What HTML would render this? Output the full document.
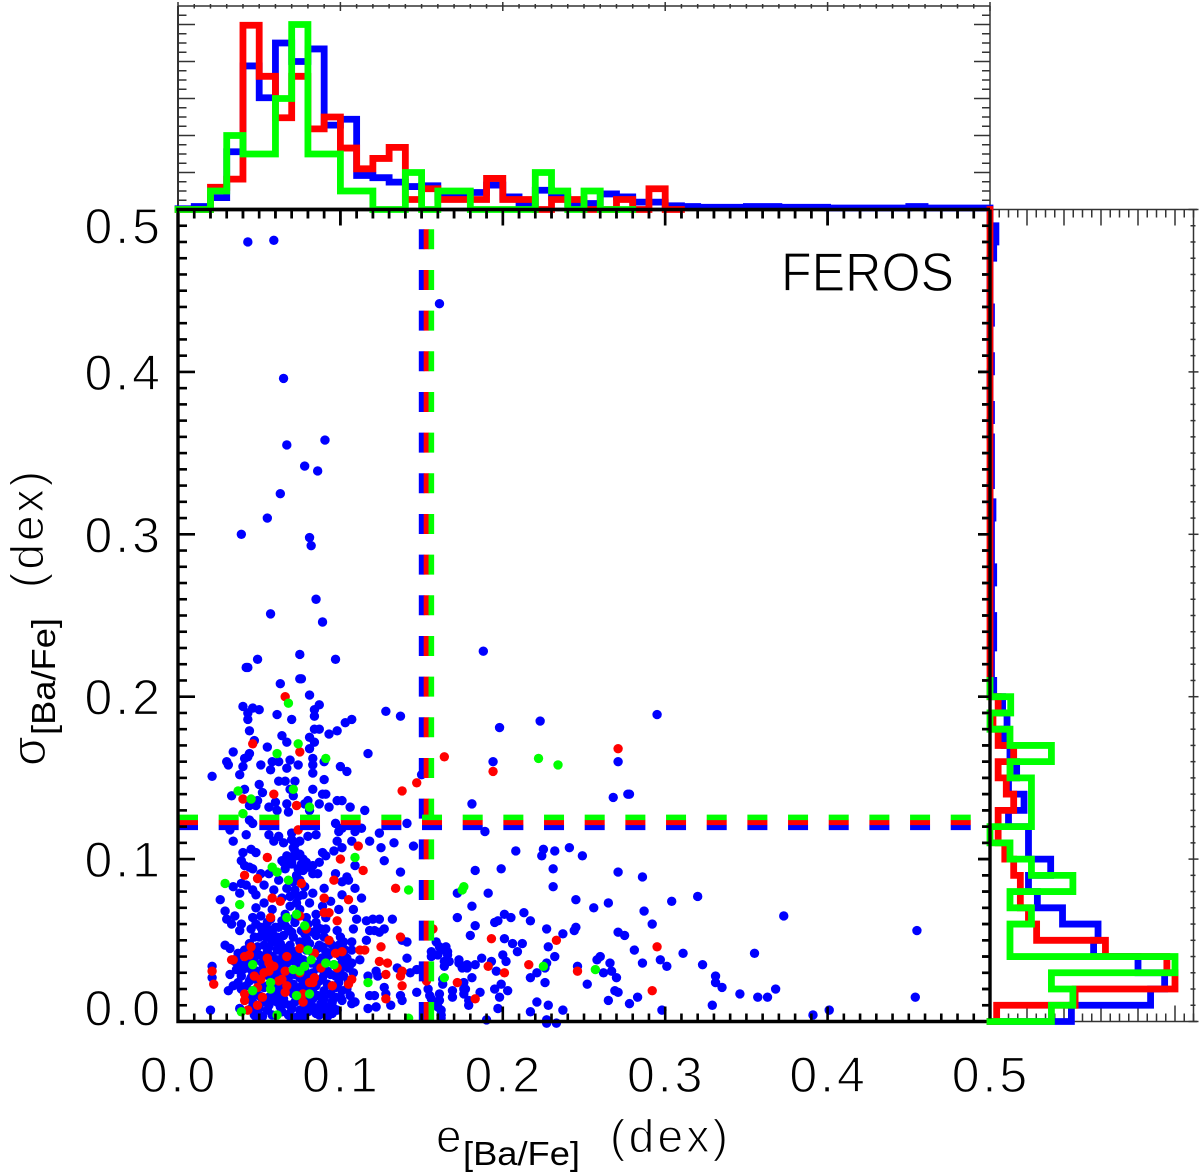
<!DOCTYPE html>
<html>
<head>
<meta charset="utf-8">
<title>FEROS scatter</title>
<style>
html,body{margin:0;padding:0;background:#fff;}
svg{display:block;}
text{font-family:"Liberation Sans",sans-serif;fill:#000;}
.thin{stroke:#fff;stroke-width:1.2px;}
.tick{letter-spacing:3px;}
</style>
</head>
<body>
<svg id="chart" xmlns="http://www.w3.org/2000/svg" width="1200" height="1176" viewBox="0 0 1200 1176">
<rect x="0" y="0" width="1200" height="1176" fill="#fff"/>
<g id="scatter-layer"></g>
<g id="dash-layer"></g>
<g id="frame-layer"></g>
<g id="hist-layer"></g>
<g id="top-layer"></g>
<g id="label-layer"></g>
<text class="thin" x="781" y="291" font-size="55" textLength="173" lengthAdjust="spacingAndGlyphs">FEROS</text>
<text class="thin" x="436" y="1152" font-size="46">e</text>
<text x="463" y="1165" font-size="33" textLength="117" lengthAdjust="spacingAndGlyphs">[Ba/Fe]</text>
<text class="thin" x="610" y="1152" font-size="46" textLength="118">(dex)</text>
<text class="thin" transform="translate(45,766) rotate(-90)" font-size="48">σ</text>
<text transform="translate(55,735) rotate(-90)" font-size="33" textLength="117" lengthAdjust="spacingAndGlyphs">[Ba/Fe]</text>
<text class="thin" transform="translate(43,588) rotate(-90)" font-size="46" textLength="117">(dex)</text>
</svg>
<script>
// ---------- data ----------
const xTickLabels = ["0.0","0.1","0.2","0.3","0.4","0.5"];
const yTickLabels = ["0.0","0.1","0.2","0.3","0.4","0.5"];
const thresholdE = {blue:0.150, red:0.153, green:0.156};
const thresholdS = {blue:0.1195, red:0.1226, green:0.1257};

// top histogram: percent per 0.01 bin of e
const histTopBlue = [0.1,0.4,1.6,7.8,19.4,15.1,22.5,20,21.7,11.4,12.2,4.6,4.3,3.7,3.1,3.2,1.7,1.7,2.3,3.3,1.7,0.7,2.6,1.7,0.8,0.8,2.1,1.7,1,1,0.5,0.4,0.3,0.3,0.3,0.4,0.4,0.3,0.3,0.3,0.2,0.2,0.2,0.2,0.2,0.4,0.2,0.2,0.2,0.2];
const histTopRed = [0,0,3,4.1,24.9,18,12.4,18,10.9,12.5,8.3,5.5,6.9,8.4,1.35,2.8,1.35,1.35,1.35,4.2,1.35,1.35,0,1.35,1.35,0,0,1.35,0,2.8,0];
const histTopGreen = [0,0,2.5,10,7.5,7.5,15,25,7.5,7.5,2.5,2.5,0,0,5,0,2.5,2.5,0,0,0,0,5,2.5,0,2.5,0,0];

// right histogram: percent per 0.01 bin of sigma
const histRightBlue = [11,21.7,23.6,20,14,14.6,9.8,6.4,5.2,8.2,5.2,5.2,2.5,4.6,2.5,3.6,2.7,1.9,2.3,1.7,0.5,0.2,0.2,0.5,0.5,0.2,0.2,0.5,0.2,0.2,0.2,0.4,0,0.2,0.2,0.2,0,0.2,0,0,0.2,0,0,0.2,0,0,0,0.5,0.8,0];
const histRightRed = [0.9,11.5,25,23.9,15.6,6.3,5.2,4.1,4.1,3.2,2,1.1,1.1,3.2,2.2,1.1,3.2,1.1,0.4,1.1,0,0,0,0,0,0,0,0,0,0,0,0,0,0,0,0,0,0,0,0,0,0,0,0,0,0,0,0,0,0];
const histRightGreen = [8.3,11.2,8.3,25,2.7,2.7,5.6,2.7,11.2,5.6,2.7,0,5.6,5.6,5.6,2.7,8.3,2.7,0,2.8,0];

// scatter points: [e, sigma]
const blueSparse = [[.043,.480],[.059,.481],[.161,.442],[.065,.396],[.067,.355],[.0905,.358],[.078,.342],[.086,.339],[.063,.325],[.055,.310],[.039,.300],[.081,.298],[.082,.293],[.085,.260],[.089,.246],[.057,.251],[.075,.226],[.049,.223],[.097,.223],[.042,.218],[.188,.228],[.076,.211],[.063,.208],
[.295,.189],[.223,.185],[.198,.181],[.194,.160],[.271,.160],[.181,.134],[.268,.138],[.278,.140],[.277,.140],[.189,.117],[.208,.105],[.225,.106],[.224,.102],[.232,.105],[.241,.107],[.249,.102],[.183,.093],[.199,.094],[.231,.094],[.271,.092],[.286,.089],[.172,.079],[.191,.079],[.231,.083],[.245,.075],[.256,.070],[.265,.073],[.304,.074],[.320,.077],[.181,.071],[.287,.068],[.172,.064],[.201,.066],[.197,.062],[.195,.061],[.205,.064],[.213,.067],[.217,.062],[.183,.059],[.373,.065],[.292,.060],[.227,.057],[.245,.058],[.244,.056],[.237,.054],[.271,.055],[.275,.053],[.180,.053],[.455,.056],[.201,.051],[.206,.048],[.212,.048],[.228,.046],[.281,.044],[.209,.043],[.311,.042],[.355,.042],[.200,.041],[.202,.037],[.232,.040],[.187,.039],[.193,.037],[.297,.038],[.260,.040],[.258,.038],[.266,.036],[.286,.036],[.301,.034],[.323,.035],[.227,.036],[.226,.033],[.246,.034],[.221,.030],[.217,.027],[.196,.031],[.183,.035],[.178,.033],[.175,.033],[.173,.036],[.181,.027],[.262,.030],[.267,.031],[.270,.027],[.331,.028],[.331,.024],[.335,.021],[.226,.024],[.252,.023],[.199,.023],[.195,.020],[.203,.019],[.176,.020],[.176,.017],[.186,.018],[.169,.015],[.198,.015],[.269,.019],[.271,.018],[.283,.015],[.278,.011],[.265,.013],[.346,.017],[.357,.015],[.363,.015],[.368,.020],[.454,.015],[.329,.010],[.179,.010],[.197,.008],[.228,.010],[.221,.012],[.237,.007],[.217,.006],[.298,.007],[.391,.004],[.401,.007],[.190,.001],[.227,.001],[.227,-.001],[.233,-.001],
[.159,.049],[.162,.044],[.166,.043],[.156,.040],[.160,.041],[.167,.037],[.164,.034],[.163,.023],[.161,.013],[.160,.009],[.162,.004],[.162,.002],[.156,.014]];

const blueUpper = [[.043,.218],[.075,.211],[.081,.201],[.040,.194],[.043,.190],[.046,.193],[.050,.192],[.043,.186],[.061,.189],[.070,.186],[.087,.195],[.084,.192],[.084,.188],[.107,.186],[.103,.184],[.128,.191],[.137,.188],[.044,.179],[.084,.180],[.087,.180],[.098,.179],[.093,.177],[.064,.176],[.067,.172],[.081,.175],[.084,.172],[.047,.173],[.055,.169],[.034,.166],[.044,.165],[.043,.163],[.041,.162],[.081,.168],[.117,.165],[.030,.160],[.031,.158],[.040,.157],[.051,.158],[.058,.160],[.062,.160],[.057,.155],[.069,.161],[.067,.156],[.074,.158],[.083,.162],[.083,.158],[.083,.153],[.090,.160],[.100,.157],[.104,.154],[.021,.151],[.038,.152],[.090,.149],[.062,.148],[.066,.148],[.072,.148],[.050,.146],[.150,.152],[.041,.143],[.052,.141],[.083,.143],[.069,.143],[.071,.139],[.033,.139],[.089,.140],[.091,.140],[.049,.136],[.044,.133],[.048,.133],[.080,.136],[.078,.134],[.060,.135],[.056,.132],[.061,.130],[.067,.134],[.068,.129],[.087,.134],[.093,.132],[.098,.136],[.101,.136],[.106,.132],[.115,.130],[.081,.130],[.044,.124],[.046,.122],[.097,.122],[.141,.122],[.032,.118],[.042,.115],[.056,.115],[.034,.111],[.062,.114],[.059,.111],[.065,.110],[.070,.116],[.070,.112],[.072,.109],[.075,.111],[.080,.114],[.085,.115],[.099,.117],[.101,.119],[.098,.111],[.109,.117],[.113,.119],[.124,.116],[.107,.111],[.118,.111],[.133,.110],[.145,.108],[.125,.107],[.101,.107],[.096,.105],[.040,.104],[.045,.106],[.048,.104],[.072,.105],[.075,.103],[.089,.104],[.091,.102],[.087,.098],[.127,.099],[.067,.102],[.064,.099],[.039,.099],[.041,.096],[.044,.095],[.070,.097],[.076,.097],[.080,.095],[.109,.096],[.137,.092],[.071,.107],[.073,.102],[.069,.101],[.077,.100],[.074,.094],[.066,.094],[.083,.096]];

const blueMiddle = [[.046,.094],[.051,.091],[.034,.083],[.039,.085],[.042,.084],[.038,.079],[.046,.081],[.053,.084],[.059,.081],[.048,.078],[.026,.075],[.053,.073],[.048,.070],[.046,.064],[.051,.065],[.029,.068],[.035,.065],[.030,.063],[.033,.060],[.039,.060],[.038,.056],[.045,.057],[.047,.052],[.055,.057],[.054,.052],[.062,.058],[.061,.052],[.029,.047],[.032,.045],[.037,.042],[.035,.037],[.032,.029],[.034,.022],[.031,.019],[.021,.034],[.021,.027],[.020,.007],[.077,.093],[.073,.090],[.083,.091],[.076,.096],[.070,.098],[.065,.098],[.079,.098],[.086,.091],[.073,.073],[.077,.078],[.081,.073],[.078,.083],[.085,.066],[.089,.071],[.091,.064],[.101,.078],[.109,.082],[.113,.076],[.097,.091],[.104,.089],[.101,.086],[.105,.087],[.099,.069],[.108,.069],[.110,.063],[.108,.057],[.116,.062],[.120,.063],[.124,.063],[.132,.063],[.118,.056],[.121,.056],[.127,.057],[.124,.055],[.138,.050],[.141,.049],[.116,.050],[.107,.049],[.100,.052],[.091,.057],[.085,.061],[.098,.056],[.102,.049],[.107,.044],[.112,.038],[.107,.036],[.108,.030],[.156,.043],[.161,.046],[.165,.046],[.166,.041],[.164,.037],[.173,.038],[.178,.035],[.122,.031],[.117,.028],[.123,.028],[.135,.033],[.141,.039],[.143,.030],[.147,.032],[.151,.034],[.147,.018],[.154,.020],[.155,.016],[.161,.017],[.169,.019],[.176,.024],[.177,.020],[.163,.026],[.179,.013],[.159,.011],[.162,.007],[.162,.004],[.137,.016],[.138,.013],[.131,.010],[.127,.021],[.128,.017],[.118,.016],[.121,.016],[.122,.009],[.117,.008],[.109,.012],[.107,.011],[.096,.008],[.091,.005],[.085,.005],[.077,.002],[.069,.005],[.070,.002],[.048,.003],[.045,.008],[.038,.008],[.046,.012],[.056,.091],[.062,.087],[.067,.082],[.071,.086],[.064,.076],[.069,.071],[.058,.069],[.066,.066],[.075,.069],[.083,.079],[.090,.082],[.094,.074],[.072,.081],[.075,.087],[.069,.077],[.074,.077],[.057,.063],[.064,.062],[.072,.064],[.079,.064]];

const blueDense = [[.048,.060],[.055,.061],[.066,.059],[.072,.061],[.080,.060],[.052,.056],[.058,.055],[.068,.057],[.076,.056],[.083,.055],[.088,.057],[.050,.052],[.057,.051],[.065,.053],[.071,.052],[.079,.051],[.085,.053],[.090,.052],[.044,.048],[.053,.047],[.059,.049],[.063,.048],[.069,.047],[.075,.049],[.081,.048],[.087,.047],[.094,.048],[.099,.047],[.041,.044],[.047,.045],[.055,.043],[.061,.044],[.066,.045],[.072,.043],[.079,.044],[.086,.045],[.091,.043],[.103,.044],[.037,.040],[.044,.039],[.050,.041],[.058,.040],[.064,.039],[.070,.041],[.074,.040],[.088,.039],[.093,.041],[.100,.040],[.104,.039],[.037,.036],[.041,.035],[.047,.037],[.052,.036],[.062,.035],[.068,.037],[.074,.036],[.085,.035],[.091,.037],[.101,.036],[.106,.035],[.036,.032],[.043,.033],[.049,.031],[.058,.032],[.064,.033],[.070,.031],[.078,.032],[.086,.033],[.092,.031],[.100,.032],[.105,.033],[.039,.028],[.045,.027],[.054,.029],[.060,.028],[.068,.027],[.072,.029],[.080,.028],[.089,.027],[.094,.029],[.102,.028],[.037,.024],[.044,.025],[.050,.023],[.059,.024],[.065,.025],[.071,.023],[.077,.024],[.087,.025],[.092,.023],[.099,.024],[.105,.025],[.039,.020],[.046,.019],[.053,.021],[.060,.020],[.069,.019],[.075,.021],[.083,.020],[.090,.019],[.097,.021],[.104,.020],[.043,.016],[.047,.017],[.056,.015],[.063,.016],[.071,.017],[.079,.015],[.086,.016],[.094,.017],[.100,.015],[.106,.016],[.052,.012],[.059,.013],[.066,.011],[.072,.012],[.081,.013],[.088,.011],[.095,.012],[.101,.013],[.050,.008],[.055,.007],[.063,.009],[.070,.008],[.075,.007],[.083,.009],[.089,.008],[.098,.007],[.047,.004],[.052,.003],[.068,.004],[.074,.003],[.078,.005],[.087,.004],[.092,.003],
[.051,.058],[.060,.058],[.070,.055],[.078,.054],[.086,.058],[.049,.046],[.056,.046],[.064,.043],[.069,.043],[.077,.046],[.083,.042],[.089,.046],[.096,.045],[.046,.042],[.053,.039],[.061,.038],[.067,.036],[.072,.037],[.077,.038],[.082,.036],[.089,.035],[.096,.035],[.040,.032],[.046,.030],[.052,.032],[.056,.028],[.062,.030],[.067,.029],[.075,.027],[.083,.030],[.090,.030],[.097,.028],[.042,.022],[.048,.026],[.055,.022],[.062,.021],[.067,.022],[.073,.019],[.080,.021],[.085,.022],[.095,.022],[.101,.019],[.050,.016],[.058,.017],[.065,.014],[.075,.014],[.083,.014],[.090,.014],[.097,.015],[.056,.010],[.061,.012],[.069,.010],[.078,.010],[.085,.008],[.092,.009],[.058,.004],[.064,.006],[.080,.006],[.095,.005]];

const redPoints = [[.164,.163],[.194,.154],[.271,.168],[.193,.051],[.233,.050],[.295,.046],[.216,.035],[.191,.034],[.201,.030],[.246,.031],[.172,.024],[.183,.014],[.292,.019],[.157,.057],
[.066,.200],[.046,.171],[.075,.166],[.147,.147],[.138,.142],[.040,.137],[.059,.140],[.073,.133],[.074,.118],[.111,.108],[.055,.101],[.100,.100],[.114,.093],
[.041,.090],[.049,.088],[.076,.085],[.096,.087],[.134,.082],[.058,.076],[.063,.074],[.090,.076],[.105,.075],[.090,.067],[.093,.067],[.057,.064],[.075,.065],[.098,.062],[.079,.057],[.137,.052],[.093,.050],[.045,.046],[.075,.045],[.125,.046],[.084,.042],[.097,.042],[.101,.043],[.112,.044],[.115,.044],[.067,.040],[.034,.038],[.033,.038],[.041,.040],[.044,.041],[.055,.039],[.056,.036],[.124,.037],[.129,.036],[.059,.034],[.056,.031],[.053,.030],[.066,.031],[.047,.028],[.051,.026],[.064,.026],[.062,.025],[.075,.030],[.088,.033],[.098,.033],[.128,.029],[.138,.031],[.137,.028],[.021,.031],[.022,.023],[.084,.027],[.083,.024],[.081,.024],[.107,.026],[.105,.023],[.095,.022],[.138,.022],[.153,.025],[.067,.022],[.066,.018],[.049,.021],[.041,.017],[.041,.013],[.052,.015],[.049,.010],[.128,.014],[.077,.017],[.077,.012],[.043,.007]];

const greenPoints = [[.222,.162],[.234,.158],[.175,.081],[.225,.034],[.257,.032],[.164,.027],
[.068,.196],[.074,.171],[.061,.165],[.091,.162],[.037,.142],[.071,.143],[.045,.137],[.081,.132],[.040,.128],[.109,.101],[.058,.095],
[.061,.092],[.068,.087],[.029,.085],[.038,.072],[.142,.081],[.176,.083],[.067,.064],[.073,.066],[.078,.059],[.080,.044],[.082,.038],[.046,.035],[.091,.036],[.096,.035],[.078,.034],[.075,.031],[.071,.032],[.057,.024],[.057,.020],[.046,.019],[.073,.016],[.081,.017],[.039,.006],[.061,.004],[.117,.024],[.142,.002]];

// ---------- axis functions ----------
const X0 = 178, X1 = 990, YB = 1021.5, YT = 209.5;
function xScale(e){ return X0 + (X1 - X0) * e / 0.5; }
function yScale(s){ return YB - (YB - YT) * s / 0.5; }
function histH(v){ return v * 7.4; }

const SVGNS = "http://www.w3.org/2000/svg";
function mk(tag, parent, attrs){
  const el = document.createElementNS(SVGNS, tag);
  for (const k in attrs) el.setAttribute(k, attrs[k]);
  parent.appendChild(el);
  return el;
}
function seg(parent, x1, y1, x2, y2, color, w){
  return mk("line", parent, {x1:x1, y1:y1, x2:x2, y2:y2, stroke:color, "stroke-width":w});
}

// ---------- scatter ----------
const scatter = document.getElementById("scatter-layer");
function drawPoints(points, color, r, name){
  points.forEach(function(p){
    const c = mk("circle", scatter, {cx:xScale(p[0]), cy:yScale(p[1]), r:r, fill:color});
    
    
  });
}
drawPoints(blueSparse, "#0000ff", 4.7, "blue-point");
drawPoints(blueUpper, "#0000ff", 4.7, "blue-point");
drawPoints(blueMiddle, "#0000ff", 4.7, "blue-point");
drawPoints(blueDense, "#0000ff", 4.7, "blue-point");
drawPoints(redPoints, "#ff0000", 4.7, "red-point");
drawPoints(greenPoints, "#00ff00", 4.7, "green-point");

// ---------- thresholds ----------
const dash = document.getElementById("dash-layer");
[["blue","#0000ff"],["red","#ff0000"],["green","#00ff00"]].forEach(function(item){
  const v = mk("line", dash, {x1:xScale(thresholdE[item[0]]), x2:xScale(thresholdE[item[0]]), y1:YB+0.5, y2:YT, stroke:item[1], "stroke-width":5.6, "stroke-dasharray":"20 20.67"});
  
  
  const h = mk("line", dash, {x1:X0, x2:X1, y1:yScale(thresholdS[item[0]]), y2:yScale(thresholdS[item[0]]), stroke:item[1], "stroke-width":5.4, "stroke-dasharray":"20 20.67"});
  
  
});

// ---------- main frame & ticks ----------
const frame = document.getElementById("frame-layer");
const DK = "#000", TH = "#333";
for (let i = 0; i <= 50; i++){
  const e = i * 0.01, major = i % 10 === 0;
  const px = xScale(e);
  seg(frame, px, YB, px, YB - (major ? 15 : 8), DK, 2.6);
  seg(frame, px, YT, px, YT + (major ? 16 : 9), DK, 2.6);
  const py = yScale(e);
  seg(frame, X0, py, X0 + (major ? 17 : 9), py, DK, 2.6);
  seg(frame, X1, py, X1 - (major ? 12 : 8), py, DK, 2.6);
}
const box = mk("path", frame, {d:"M"+X0+" "+YT+"V"+YB+"H"+X1+"M"+X0+" "+YT+"H"+X1, fill:"none", stroke:DK, "stroke-width":3.4});



// top panel frame
const topY = 6;
seg(frame, X0, topY, X1, topY, TH, 1.5);
seg(frame, X0, topY, X0, YT, TH, 2);
seg(frame, X1, topY, X1, YT, TH, 1.5);
for (let i = 0; i <= 50; i++){
  const px = xScale(i * 0.01), major = i % 10 === 0;
  seg(frame, px, major ? 2 : 4, px, major ? 11 : 8.5, TH, 1.5);
}
for (let i = 1; i <= 21; i++){
  const py = YT - i * 9.25, major = i % 4 === 0;
  seg(frame, X0, py, X0 + (major ? 17 : 8.5), py, TH, 1.5);
  seg(frame, X1, py, X1 - (major ? 16 : 8), py, TH, 1.5);
}

// right panel frame
const rightX = 1193.5;
seg(frame, X1, YT, 1197, YT, TH, 1.5);
seg(frame, X1, YB, 1197, YB, TH, 1.5);
seg(frame, rightX, YT, rightX, YB, TH, 1.5);
for (let i = 1; i <= 22; i++){
  const px = X1 + i * 9.25, major = i % 4 === 0;
  seg(frame, px, YT, px, YT + (major ? 16 : 8), TH, 1.5);
  seg(frame, px, YB, px, YB - (major ? 16 : 8), TH, 1.5);
}
for (let i = 0; i <= 50; i++){
  const py = yScale(i * 0.01), major = i % 10 === 0;
  seg(frame, rightX - (major ? 5 : 3), py, rightX + (major ? 5 : 2), py, TH, 1.5);
}

// ---------- histograms ----------
const hist = document.getElementById("hist-layer");
function topHistPath(values){
  let d = "";
  values.forEach(function(v, k){
    const y = YT - histH(v);
    d += (k === 0 ? "M" : "L") + xScale(k * 0.01) + " " + y + "L" + xScale((k + 1) * 0.01) + " " + y;
  });
  return d;
}
function rightHistPath(values){
  let d = "M" + X1 + " " + YB;
  values.forEach(function(v, k){
    const x = X1 + histH(v);
    d += "L" + x + " " + yScale(k * 0.01) + "L" + x + " " + yScale((k + 1) * 0.01);
  });
  return d;
}
function drawHist(d, color, name){
  const p = mk("path", hist, {d:d, fill:"none", stroke:color, "stroke-width":6.8, "stroke-linejoin":"miter", "stroke-linecap":"square"});
  
  
}
drawHist(topHistPath(histTopBlue), "#0000ff", "top-histogram-blue");
drawHist(topHistPath(histTopRed), "#ff0000", "top-histogram-red");
drawHist(topHistPath(histTopGreen), "#00ff00", "top-histogram-green");
drawHist(rightHistPath(histRightBlue), "#0000ff", "right-histogram-blue");
drawHist(rightHistPath(histRightRed), "#ff0000", "right-histogram-red");
drawHist(rightHistPath(histRightGreen), "#00ff00", "right-histogram-green");

// axes lines over the histograms
const over = document.getElementById("top-layer");
seg(over, X0 - 1.7, YT, X1, YT, DK, 3.4);
seg(over, X1, YT, X1, YB - 3, DK, 3.4);
for (let i = 0; i <= 50; i++){
  const px = xScale(i * 0.01), major = i % 10 === 0;
  seg(over, px, YT, px, YT + (major ? 16 : 9), DK, 2.6);
}
for (let i = 1; i <= 50; i++){
  const py = yScale(i * 0.01), major = i % 10 === 0;
  seg(over, X1, py, X1 - (major ? 12 : 8), py, DK, 2.6);
}

// ---------- tick labels ----------
const labels = document.getElementById("label-layer");
xTickLabels.forEach(function(t, i){
  const tx = mk("text", labels, {x:xScale(i * 0.1) + 1, y:1092, "font-size":50, "text-anchor":"middle", class:"thin tick"});
  tx.textContent = t;
  
  
});
yTickLabels.forEach(function(t, i){
  const base = yScale(i * 0.1) + 18 + (i === 0 ? -14 : 0) + (i === 5 ? 16 : 0);
  const ty = mk("text", labels, {x:163, y:base, "font-size":50, "text-anchor":"end", class:"thin tick"});
  ty.textContent = t;
  
  
});
</script>
</body>
</html>
